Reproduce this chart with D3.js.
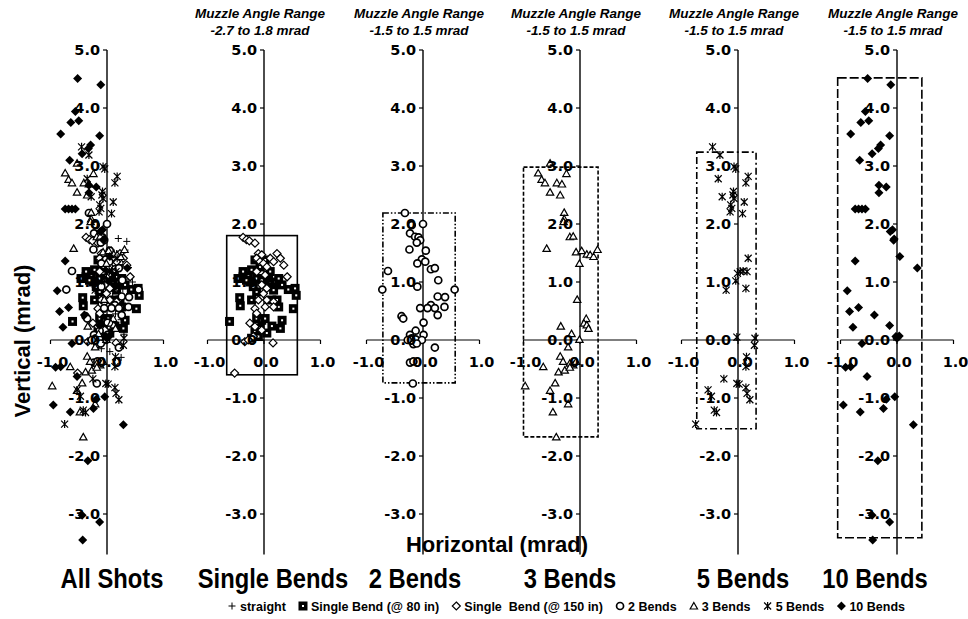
<!DOCTYPE html>
<html lang="en">
<head>
<meta charset="utf-8">
<title>Muzzle angle scatter</title>
<script src="https://d3js.org/d3.v7.min.js"></script>
<style>
  body { margin: 0; background: #fff; }
  text { fill: #000; }
</style>
</head>
<body>
<script>
// ---- data (mrad) ----
var straight = [
  [0.08,1.55],[0.17,1.49],[0.32,1.55],[0.22,1.40],[0.05,1.35],[0.28,1.30],[0.38,1.25],[0.12,1.22],
  [-0.05,1.18],[0.20,1.12],[0.33,1.05],[0.45,1.00],[0.02,1.02],[-0.12,0.95],[0.15,0.92],[0.28,0.88],
  [0.40,0.80],[-0.02,0.82],[0.10,0.75],[0.22,0.70],[-0.15,0.65],[0.05,0.60],[0.30,0.55],[-0.08,0.48],
  [0.15,0.45],[0.25,0.35],[0.02,0.30],[-0.20,0.25],[0.12,0.18],[0.30,0.10],[-0.05,0.05],[0.18,-0.05],
  [0.05,-0.20],[0.25,-0.30],[-0.10,-0.15],[0.35,1.70],[0.20,1.75]
];
var single80 = [
  [-0.46,1.06],[-0.37,1.09],[-0.28,1.10],[-0.22,1.21],[-0.25,1.00],[-0.13,1.06],[-0.04,1.03],[0.08,1.03],
  [0.11,0.98],[0.20,1.00],[0.26,1.06],[0.32,0.95],[0.43,0.87],[0.55,0.89],[0.57,0.77],[-0.43,0.73],
  [-0.42,0.59],[-0.22,0.69],[-0.13,0.83],[0.14,0.69],[0.23,0.69],[0.26,0.57],[0.52,0.54],[-0.61,0.32],
  [-0.13,0.37],[-0.04,0.34],[0.02,0.37],[0.14,0.24],[0.32,0.34],[0.29,0.20],[-0.16,0.14],[-0.10,0.06],
  [-0.22,0.03],[-0.07,1.26],[-0.16,1.38],[0.02,1.38],[0.11,1.18],[-0.37,1.18],[-0.31,1.03],[-0.19,0.92],
  [0.05,0.92],[0.17,0.86],[-0.07,0.20],[0.05,0.12]
];
var single150 = [
  [-0.37,1.77],[-0.31,1.73],[-0.26,1.71],[-0.16,1.67],[-0.10,1.49],[-0.04,1.47],[-0.13,1.41],[-0.07,1.35],
  [-0.01,1.32],[0.05,1.26],[-0.13,1.18],[0.02,1.12],[-0.04,0.95],[0.05,0.89],[-0.01,0.80],[-0.10,0.69],
  [0.05,0.69],[0.17,0.66],[-0.16,0.54],[0.02,0.57],[0.17,0.57],[-0.13,0.46],[-0.25,0.29],[-0.16,0.23],
  [-0.04,0.17],[-0.34,-0.03],[-0.28,0.00],[-0.19,0.06],[0.16,-0.05],[-0.52,-0.57],[0.23,1.49],[0.29,1.41],
  [0.35,1.29],[0.41,1.09],[0.11,1.41],[0.17,1.35]
];
var bends2 = [
  [-0.32,2.19],[0.00,2.00],[-0.20,1.98],[-0.23,1.84],[-0.14,1.78],[-0.08,1.77],[-0.05,1.72],[-0.11,1.68],
  [-0.24,1.56],[0.05,1.54],[-0.02,1.39],[0.04,1.35],[-0.10,1.32],[0.14,1.22],[0.21,1.24],[-0.62,1.19],
  [0.27,1.03],[-0.10,0.92],[-0.72,0.87],[0.56,0.87],[0.26,0.75],[0.39,0.74],[0.14,0.60],[0.21,0.55],
  [0.08,0.55],[-0.05,0.55],[0.38,0.57],[0.26,0.43],[-0.38,0.41],[-0.35,0.37],[0.01,0.30],[-0.13,0.16],
  [-0.23,0.09],[0.01,0.09],[-0.20,0.03],[-0.13,0.01],[-0.27,0.00],[-0.02,0.00],[-0.17,-0.07],[-0.11,-0.06],
  [0.21,-0.13],[-0.23,-0.39],[-0.17,-0.37],[-0.18,-0.75]
];
var bends3 = [
  [-0.53,3.05],[-0.24,2.87],[-0.74,2.88],[-0.68,2.77],[-0.62,2.71],[-0.41,2.71],[-0.32,2.69],[-0.53,2.55],
  [-0.35,2.50],[-0.28,2.20],[-0.28,2.09],[-0.29,2.04],[-0.18,1.78],[-0.12,1.79],[-0.59,1.58],[-0.07,1.52],
  [0.03,1.54],[0.12,1.48],[0.18,1.47],[0.24,1.44],[0.31,1.56],[-0.01,1.32],[-0.05,0.70],[0.11,0.37],
  [0.07,0.29],[0.12,0.26],[0.15,0.20],[-0.34,0.24],[-0.15,0.11],[-0.01,0.01],[-0.21,-0.12],[-0.35,-0.28],
  [-0.30,-0.37],[-0.65,-0.46],[-0.18,-0.40],[-0.12,-0.43],[-0.07,-0.37],[-0.38,-0.55],[-0.27,-0.52],
  [-0.18,-0.47],[-0.44,-0.74],[-0.53,-0.87],[-0.97,-0.79],[-0.21,-1.10],[-0.48,-1.24],[-0.42,-1.67]
];
var bends5 = [
  [-0.45,3.33],[-0.32,3.19],[-0.07,2.99],[-0.04,2.95],[-0.35,2.78],[0.18,2.82],[0.14,2.71],[-0.28,2.47],
  [-0.08,2.56],[-0.09,2.50],[-0.07,2.44],[-0.13,2.33],[-0.11,2.27],[-0.14,2.21],[0.11,2.38],[0.08,2.18],
  [0.18,1.41],[-0.01,1.15],[0.04,1.18],[0.09,1.19],[0.16,1.18],[-0.04,1.02],[-0.21,0.86],[0.14,0.89],
  [-0.02,0.05],[0.30,0.03],[0.29,-0.09],[0.15,-0.29],[0.14,-0.46],[-0.25,-0.67],[-0.02,-0.75],[0.02,-0.76],
  [0.14,-0.82],[0.16,-0.92],[-0.53,-0.86],[-0.47,-0.97],[0.21,-1.03],[-0.42,-1.21],[-0.38,-1.25],[-0.75,-1.45]
];
var bends10 = [
  [-0.52,4.51],[-0.11,4.40],[-0.56,3.94],[-0.64,3.75],[-0.50,3.78],[-0.82,3.55],[-0.13,3.52],[-0.29,3.36],
  [-0.33,3.30],[-0.44,3.21],[-0.66,3.10],[-0.32,2.67],[-0.19,2.64],[-0.32,2.54],[-0.74,2.26],[-0.68,2.26],
  [-0.62,2.26],[-0.56,2.26],[-0.08,1.90],[-0.05,1.74],[-0.12,1.87],[-0.06,1.72],[0.05,1.44],[-0.74,1.36],
  [0.36,1.24],[-0.88,0.85],[-0.84,0.49],[-0.68,0.56],[-0.40,0.43],[-0.78,0.22],[-0.13,0.25],[-0.62,-0.06],
  [-0.02,0.06],[0.04,0.07],[0.00,0.03],[-0.91,-0.47],[-0.82,-0.46],[-0.53,-0.63],[-0.04,-0.98],[-0.19,-1.02],
  [-0.95,-1.12],[-0.24,-1.18],[-0.65,-1.24],[0.29,-1.46],[-0.34,-2.08],[-0.44,-3.02],[-0.13,-3.14],[-0.43,-3.45]
];

var panelNames = ["All Shots", "Single Bends", "2 Bends", "3 Bends", "5 Bends", "10 Bends"];
var rangeLabels = [null, "-2.7 to 1.8 mrad", "-1.5 to 1.5 mrad", "-1.5 to 1.5 mrad", "-1.5 to 1.5 mrad", "-1.5 to 1.5 mrad"];
// muzzle-angle boxes: [xmin, xmax, ymin, ymax]
var boxes = [null, [-0.66,0.59,-0.60,1.80], [-0.71,0.57,-0.74,2.19], [-1.00,0.32,-1.67,2.98],
             [-0.73,0.32,-1.53,3.24], [-1.05,0.44,-3.41,4.52]];
var yTicks = [5, 4, 3, 2, 1, 0, -1, -2, -3];
var xTicks = [-1, 0, 1];
var legendLabels = ["straight", "Single Bend (@ 80 in)", "Single  Bend (@ 150 in)", "2 Bends", "3 Bends", "5 Bends", "10 Bends"];

var series = [
  {key: "straight", data: straight},
  {key: "s80", data: single80},
  {key: "s150", data: single150},
  {key: "b2", data: bends2},
  {key: "b3", data: bends3},
  {key: "b5", data: bends5},
  {key: "b10", data: bends10}
];
// which series go in which panel
var panelSeries = [
  ["straight","s80","s150","b2","b3","b5","b10"],
  ["s80","s150"], ["b2"], ["b3"], ["b5"], ["b10"]
];
var boxDash = [null, null, "6,2,1.5,2,1.5,2", "4,2", "7,3,2,3", "9,3"];

// ---- layout ----
var width = 968, height = 619;
var centers = [107, 264, 423, 580, 738, 897];
var halfW = 56.5;

var svg = d3.select("body").append("svg")
    .attr("width", width)
    .attr("height", height)
    .style("font-family", "'Liberation Sans', Arial, sans-serif");

var y = d3.scaleLinear().domain([-3.7, 5]).range([554.6, 50]);
var fmt = function(d) { return d.toFixed(1); };

function drawMarker(g, key, px, py) {
  if (key === "straight") {
    g.append("path").attr("d", "M" + (px-3.5) + "," + py + "h7M" + px + "," + (py-3.5) + "v7")
      .attr("stroke", "#000").attr("stroke-width", 1).attr("fill", "none");
  } else if (key === "s80") {
    g.append("rect").attr("x", px-4.5).attr("y", py-4.5).attr("width", 9).attr("height", 9).attr("fill", "#000");
    g.append("rect").attr("x", px-1).attr("y", py-1).attr("width", 2).attr("height", 2).attr("fill", "#fff");
  } else if (key === "s150") {
    g.append("path").attr("d", "M" + px + "," + (py-4) + "l4,4l-4,4l-4,-4z")
      .attr("fill", "#fff").attr("stroke", "#000").attr("stroke-width", 1.2);
  } else if (key === "b2") {
    g.append("circle").attr("cx", px).attr("cy", py).attr("r", 3.5)
      .attr("fill", "#fff").attr("stroke", "#000").attr("stroke-width", 1.7);
  } else if (key === "b3") {
    g.append("path").attr("d", "M" + px + "," + (py-3.5) + "l3.7,6.5h-7.4z")
      .attr("fill", "#fff").attr("stroke", "#000").attr("stroke-width", 1.2);
  } else if (key === "b5") {
    g.append("path").attr("d", "M" + (px-3.5) + "," + (py-3.5) + "l7,7M" + (px+3.5) + "," + (py-3.5) + "l-7,7M" + px + "," + (py-4) + "v8")
      .attr("stroke", "#000").attr("stroke-width", 1.2).attr("fill", "none");
  } else if (key === "b10") {
    g.append("path").attr("d", "M" + px + "," + (py-4.5) + "l4.5,4.5l-4.5,4.5l-4.5,-4.5z").attr("fill", "#000");
  }
}

centers.forEach(function(cx, i) {
  var x = d3.scaleLinear().domain([-1, 1]).range([cx - halfW, cx + halfW]);
  var g = svg.append("g").attr("class", "panel");

  // muzzle-angle box
  if (boxes[i]) {
    var b = boxes[i];
    g.append("rect")
      .attr("x", x(b[0])).attr("y", y(b[3]))
      .attr("width", x(b[1]) - x(b[0])).attr("height", y(b[2]) - y(b[3]))
      .attr("fill", "none").attr("stroke", "#000").attr("stroke-width", 1.6)
      .attr("stroke-dasharray", boxDash[i]);
  }

  // x axis
  g.append("line").attr("x1", x(-1)).attr("x2", x(1)).attr("y1", y(0)).attr("y2", y(0))
    .attr("stroke", "#000").attr("stroke-width", 1.2);
  g.selectAll(".xt").data(xTicks).enter().append("line")
    .attr("x1", function(d) { return x(d); }).attr("x2", function(d) { return x(d); })
    .attr("y1", y(0)).attr("y2", y(0) + 4)
    .attr("stroke", "#000").attr("stroke-width", 1.2);

  // y axis
  g.append("line").attr("x1", cx).attr("x2", cx).attr("y1", y(5)).attr("y2", y(-3.7))
    .attr("stroke", "#000").attr("stroke-width", 1.4);
  g.selectAll(".yt").data(yTicks).enter().append("line")
    .attr("x1", cx - 4).attr("x2", cx).attr("y1", function(d) { return y(d); }).attr("y2", function(d) { return y(d); })
    .attr("stroke", "#000").attr("stroke-width", 1.2);

  // points
  var pg = g.append("g");
  panelSeries[i].forEach(function(k) {
    var s = series.find(function(s) { return s.key === k; });
    s.data.forEach(function(d) { drawMarker(pg, k, x(d[0]), y(d[1])); });
  });

  // tick labels
  g.selectAll(".yl").data(yTicks).enter().append("text")
    .attr("x", cx - 7).attr("y", function(d) { return y(d) + 5; })
    .attr("text-anchor", "end")
    .style("font-family", "'DejaVu Sans', sans-serif").style("font-weight", "bold").style("font-size", "14.5px")
    .text(fmt);
  g.selectAll(".xl").data(xTicks).enter().append("text")
    .attr("x", function(d) { return x(d) + 2; }).attr("y", y(0) + 27)
    .attr("text-anchor", "middle")
    .style("font-family", "'DejaVu Sans', sans-serif").style("font-weight", "bold").style("font-size", "14.5px")
    .text(fmt);

  // header
  if (rangeLabels[i]) {
    g.append("text").attr("x", cx - 4).attr("y", 18).attr("text-anchor", "middle")
      .style("font-weight", "bold").style("font-style", "italic").style("font-size", "13.5px")
      .text("Muzzle Angle Range");
    g.append("text").attr("x", cx - 4).attr("y", 35).attr("text-anchor", "middle")
      .style("font-weight", "bold").style("font-style", "italic").style("font-size", "13.5px")
      .text(rangeLabels[i]);
  }
});

// panel names along the bottom
var nameX = [112, 273, 415, 570, 743, 875];
panelNames.forEach(function(n, i) {
  svg.append("text")
    .attr("transform", "translate(" + nameX[i] + ",588) scale(0.88,1)")
    .attr("text-anchor", "middle")
    .style("font-weight", "bold").style("font-size", "27px")
    .text(n);
});

// axis titles
svg.append("text").attr("transform", "translate(30,341) rotate(-90)")
  .attr("text-anchor", "middle").style("font-weight", "bold").style("font-size", "22px")
  .text("Vertical (mrad)");
svg.append("text").attr("x", 497).attr("y", 552)
  .attr("text-anchor", "middle").style("font-weight", "bold").style("font-size", "22px")
  .text("Horizontal (mrad)");

// legend
var leg = svg.append("g");
var legX0 = 228, legX1 = 905, legY = 606;
var items = legendLabels.map(function(l, i) {
  var t = leg.append("text").attr("y", legY + 4.5)
    .style("font-weight", "bold").style("font-size", "12.5px").style("white-space", "pre")
    .text(l);
  return {t: t, w: t.node().getComputedTextLength(), key: series[i].key};
});
var mW = 12;
var total = d3.sum(items, function(d) { return d.w + mW; });
var gap = (legX1 - legX0 - total) / (items.length - 1);
var cur = legX0;
items.forEach(function(it) {
  drawMarker(leg, it.key, cur + 4, legY);
  it.t.attr("x", cur + mW);
  cur += mW + it.w + gap;
});
</script>
</body>
</html>
